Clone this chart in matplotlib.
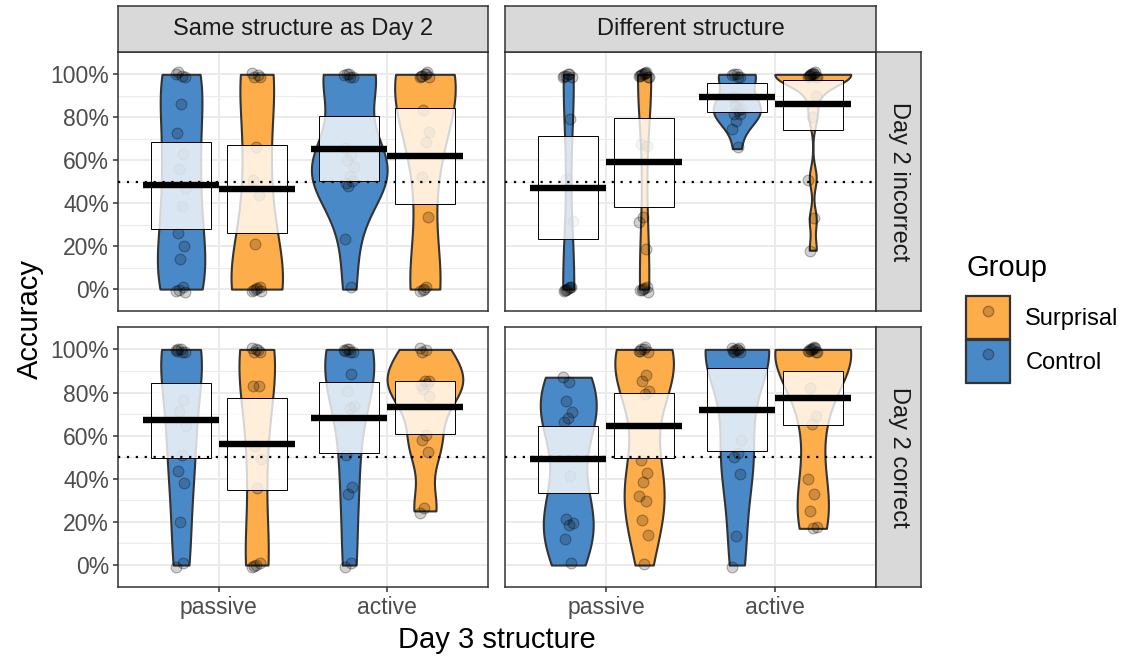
import numpy as np
import matplotlib.pyplot as plt
from matplotlib.patches import Rectangle, Patch
from matplotlib.lines import Line2D
from matplotlib.legend_handler import HandlerTuple

plt.rcParams['font.family'] = ['Liberation Sans', 'DejaVu Sans']

structures = ['Same structure as Day 2', 'Different structure']
day2 = ['Day 2 incorrect', 'Day 2 correct']
day3 = ['passive', 'active']
groups = ['Control', 'Surprisal']
colors = ['#4a89c8', '#fdad4a']

# accuracy per participant
# order in each panel: passive/Control, passive/Surprisal, active/Control, active/Surprisal
same_incorrect = [
    [1, 1, 1, 1, 0.86, 0.733, 0.62, 0.56, 0.48, 0.38, 0.267, 0.19, 0.14, 0, 0, 0, 0],
    [1, 1, 1, 1, 0.659, 0.515, 0.43, 0.209, 0, 0, 0, 0, 0, 0],
    [1, 1, 1, 1, 1, 0.662, 0.616, 0.6, 0.58, 0.522, 0.5, 0.49, 0.48, 0.239, 0],
    [1, 1, 1, 1, 1, 1, 1, 0.836, 0.743, 0.678, 0.526, 0.324, 0, 0, 0, 0],
]
diff_incorrect = [
    [1, 1, 1, 1, 1, 1, 0.783, 0.515, 0.329, 0, 0, 0, 0, 0, 0, 0],
    [1, 1, 1, 1, 1, 1, 1, 1, 1, 1, 0.678, 0.654, 0.336, 0.321, 0.181, 0, 0, 0, 0, 0, 0],
    [1, 1, 1, 1, 1, 0.9, 0.88, 0.86, 0.851, 0.83, 0.82, 0.806, 0.78, 0.755, 0.654],
    [1, 1, 1, 1, 1, 1, 1, 1, 1, 1, 1, 0.887, 0.80, 0.518, 0.324, 0.181],
]
same_correct = [
    [1, 1, 1, 1, 1, 1, 0.758, 0.716, 0.654, 0.507, 0.442, 0.371, 0.2, 0, 0],
    [1, 1, 1, 1, 1, 0.836, 0.822, 0.553, 0.5, 0.352, 0, 0, 0, 0],
    [1, 1, 1, 1, 1, 1, 0.879, 0.809, 0.747, 0.724, 0.515, 0.352, 0.329, 0, 0],
    [1, 1, 1, 0.864, 0.85, 0.84, 0.83, 0.817, 0.794, 0.6, 0.585, 0.515, 0.262, 0.251],
]
diff_correct = [
    [0.871, 0.856, 0.752, 0.724, 0.681, 0.670, 0.406, 0.212, 0.205, 0.181, 0.127, 0],
    [1, 1, 1, 1, 1, 1, 0.871, 0.856, 0.817, 0.786, 0.491, 0.414, 0.383, 0.329, 0.290,
     0.212, 0.150, 0],
    [1, 1, 1, 1, 1, 1, 1, 1, 0.588, 0.515, 0.504, 0.411, 0.132, 0],
    [1, 1, 1, 1, 1, 1, 1, 1, 1, 1, 0.825, 0.681, 0.654, 0.409, 0.321, 0.251, 0.189, 0.17],
]

# group means and 95% interval (box)
mean_same_incorrect = [0.484, 0.468, 0.654, 0.622]
lo_same_incorrect = [0.279, 0.262, 0.502, 0.398]
hi_same_incorrect = [0.687, 0.670, 0.806, 0.845]
mean_diff_incorrect = [0.471, 0.591, 0.895, 0.860]
lo_diff_incorrect = [0.231, 0.383, 0.825, 0.743]
hi_diff_incorrect = [0.712, 0.797, 0.961, 0.975]
mean_same_correct = [0.673, 0.560, 0.684, 0.732]
lo_same_correct = [0.496, 0.347, 0.519, 0.608]
hi_same_correct = [0.845, 0.774, 0.848, 0.854]
mean_diff_correct = [0.491, 0.647, 0.721, 0.774]
lo_diff_correct = [0.336, 0.496, 0.530, 0.650]
hi_diff_correct = [0.647, 0.797, 0.913, 0.898]

panels = {
    (0, 0): (same_incorrect, mean_same_incorrect, lo_same_incorrect, hi_same_incorrect),
    (0, 1): (diff_incorrect, mean_diff_incorrect, lo_diff_incorrect, hi_diff_incorrect),
    (1, 0): (same_correct, mean_same_correct, lo_same_correct, hi_same_correct),
    (1, 1): (diff_correct, mean_diff_correct, lo_diff_correct, hi_diff_correct),
}


def density(vals):
    # gaussian kde, bw.nrd0, trimmed to data range
    v = np.asarray(vals, dtype=float)
    sd = v.std(ddof=1)
    q25, q75 = np.percentile(v, [25, 75])
    lo = min(sd, (q75 - q25) / 1.34)
    if lo == 0:
        lo = sd
    bw = 0.9 * lo * len(v) ** -0.2
    y = np.linspace(v.min(), v.max(), 512)
    d = np.exp(-0.5 * ((y[:, None] - v[None, :]) / bw) ** 2).sum(axis=1)
    d = d / (len(v) * bw * np.sqrt(2 * np.pi))
    return y, d


W, H = 1131, 661
fig = plt.figure(figsize=(W / 100, H / 100), dpi=100)

col_x = [(118, 488), (505, 876)]
row_y = [(52, 311), (327, 587)]
dodge = 0.225

for (r, c), (data, means, los, his) in panels.items():
    x0, x1 = col_x[c]
    y0, y1 = row_y[r]
    ax = fig.add_axes([x0 / W, 1 - y1 / H, (x1 - x0) / W, (y1 - y0) / H])
    ax.set_xlim(0.4, 2.6)
    ax.set_ylim(-0.102, 1.104)

    profiles = [density(v) for v in data]
    dmax = max(d.max() for _, d in profiles)
    for k, vals in enumerate(data):
        g = k % 2
        xc = (k // 2 + 1) + (dodge if g else -dodge)
        yy, dd = profiles[k]
        hw = dodge * dd / dmax
        ax.fill_betweenx(yy, xc - hw, xc + hw, facecolor=colors[g],
                         edgecolor='#333333', linewidth=1.5, zorder=2)
        n = len(vals)
        jit = ((np.arange(n) * 0.618034) % 1 - 0.5)
        ax.scatter(xc + jit * 0.06, np.asarray(vals) + np.roll(jit, 3) * 0.025, s=60,
                   facecolor=(0, 0, 0, 0.18), edgecolor=(0, 0, 0, 0.3), linewidth=0.8,
                   zorder=3)
        ax.add_patch(Rectangle((xc - 0.1775, los[k]), 0.355, his[k] - los[k],
                               facecolor=(1, 1, 1, 0.8), edgecolor='black',
                               linewidth=0.7, zorder=4))
        ax.plot([xc - dodge, xc + dodge], [means[k], means[k]], color='black',
                linewidth=4.6, solid_capstyle='butt', zorder=6)

    ax.axhline(0.5, color='black', linewidth=1.6, linestyle=(0, (1, 3)), zorder=5)

    ax.set_yticks(np.arange(0, 1.01, 0.2))
    ax.set_yticks(np.arange(0.1, 1.0, 0.2), minor=True)
    ax.set_xticks([1, 2])
    ax.grid(True, which='major', color='#ebebeb', linewidth=1.4, zorder=0)
    ax.grid(True, which='minor', axis='y', color='#ebebeb', linewidth=0.8, zorder=0)
    ax.set_axisbelow(True)
    for sp in ax.spines.values():
        sp.set_color('#333333')
        sp.set_linewidth(1.1)
    ax.tick_params(which='minor', length=0)
    ax.tick_params(which='major', color='#333333', width=1.1, length=3.5,
                   labelsize=16.5, labelcolor='#4d4d4d', pad=3)
    if c == 0:
        ax.set_yticklabels(['0%', '20%', '40%', '60%', '80%', '100%'])
    else:
        ax.tick_params(axis='y', length=0, labelleft=False)
    if r == 1:
        ax.set_xticklabels(day3)
    else:
        ax.tick_params(axis='x', length=0, labelbottom=False)

# facet strips
for c, label in enumerate(structures):
    x0, x1 = col_x[c]
    sax = fig.add_axes([x0 / W, 1 - 52 / H, (x1 - x0) / W, 46 / H])
    sax.set_facecolor('#d9d9d9')
    sax.set_xticks([])
    sax.set_yticks([])
    for sp in sax.spines.values():
        sp.set_color('#333333')
        sp.set_linewidth(1.1)
    sax.text(0.5, 0.5, label, ha='center', va='center', fontsize=17, color='#1a1a1a')

for r, label in enumerate(day2):
    y0, y1 = row_y[r]
    sax = fig.add_axes([876 / W, 1 - y1 / H, 45 / W, (y1 - y0) / H])
    sax.set_facecolor('#d9d9d9')
    sax.set_xticks([])
    sax.set_yticks([])
    for sp in sax.spines.values():
        sp.set_color('#333333')
        sp.set_linewidth(1.1)
    sax.text(0.5, 0.5, label, ha='center', va='center', rotation=-90, fontsize=17,
             color='#1a1a1a')

fig.text(30 / W, 1 - 319 / H, 'Accuracy', rotation=90, ha='center', va='center',
         fontsize=21)
fig.text(497 / W, 1 - 640 / H, 'Day 3 structure', ha='center', va='center', fontsize=21)

# legend (Surprisal listed first)
handles = []
for g in [1, 0]:
    box = Patch(facecolor=colors[g], edgecolor='#333333', linewidth=1.6)
    dot = Line2D([], [], marker='o', linestyle='', markersize=7.5,
                 markerfacecolor=(0, 0, 0, 0.18), markeredgecolor=(0, 0, 0, 0.3))
    handles.append((box, dot))
fig.text(966 / W, 1 - 268 / H, 'Group', ha='left', va='center', fontsize=21)
fig.legend(handles, [groups[1], groups[0]], handler_map={tuple: HandlerTuple(ndivide=1)},
           fontsize=17, frameon=False,
           loc='upper left', bbox_to_anchor=(945 / W, 1 - 275 / H),
           handlelength=1.85, handleheight=2.4, labelspacing=0.05, handletextpad=0.65)

fig.savefig('out.png', dpi=100)
